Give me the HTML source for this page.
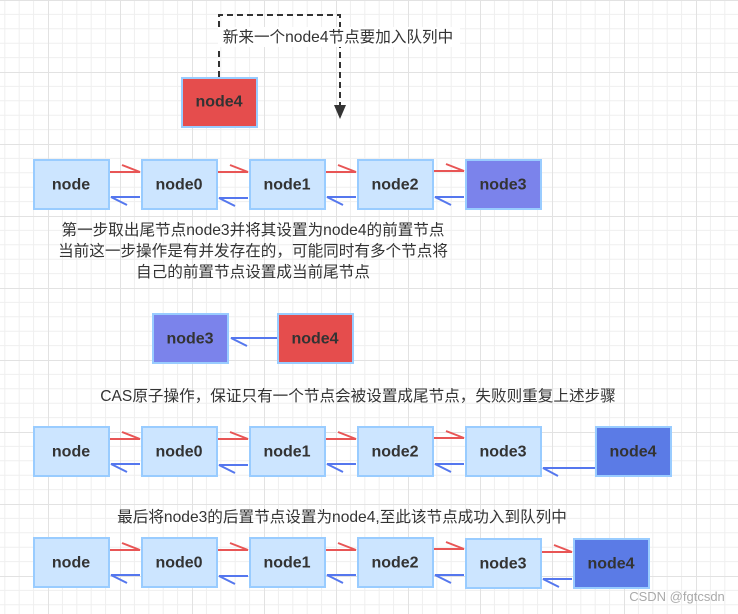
<!DOCTYPE html>
<html><head><meta charset="utf-8"><style>
html,body{margin:0;padding:0;background:#fff}
svg{display:block}
text{font-family:"Liberation Sans","Noto Sans CJK SC",sans-serif}
.b{font-weight:bold;font-size:16px;fill:#333;text-anchor:middle;dominant-baseline:central}
.t{font-size:15.6px;fill:#333;text-anchor:middle}
</style></head><body>
<svg width="738" height="614" viewBox="0 0 738 614" xmlns="http://www.w3.org/2000/svg">
<defs>
<pattern id="g" x="-24" y="0" width="72" height="72" patternUnits="userSpaceOnUse">
<path d="M0 14.4H72M0 28.8H72M0 43.2H72M0 57.6H72M14.4 0V72M28.8 0V72M43.2 0V72M57.6 0V72" stroke="#efefef" stroke-width="1" fill="none"/>
<path d="M0 0H72M0 0V72" stroke="#e2e2e2" stroke-width="2" fill="none"/>
</pattern>
</defs>
<rect width="738" height="614" fill="url(#g)"/>

<path d="M219 77V15H340V112" stroke="#333" stroke-width="2" stroke-dasharray="6 4" fill="none"/>
<path d="M334 105L340 119L346 105Z" fill="#333"/>
<rect x="218" y="27" width="242" height="20" fill="#fff"/>
<text class="t" x="338" y="42">新来一个node4节点要加入队列中</text>
<rect x="182" y="78" width="75" height="49" fill="#e54d4d" stroke="#99ccff" stroke-width="2"/>
<text class="b" x="219" y="102">node4</text>

<g id="row1">
<rect x="34" y="160" width="75" height="49" fill="#cce5ff" stroke="#99ccff" stroke-width="2"/>
<text class="b" x="71" y="185">node</text>
<rect x="142" y="160" width="75" height="49" fill="#cce5ff" stroke="#99ccff" stroke-width="2"/>
<text class="b" x="179" y="185">node0</text>
<rect x="250" y="160" width="75" height="49" fill="#cce5ff" stroke="#99ccff" stroke-width="2"/>
<text class="b" x="287" y="185">node1</text>
<rect x="358" y="160" width="75" height="49" fill="#cce5ff" stroke="#99ccff" stroke-width="2"/>
<text class="b" x="395" y="185">node2</text>
<g stroke="#e85555" stroke-width="2" fill="none">
<path d="M110 172H140L122 165"/><path d="M218 172H248L230 165"/><path d="M326 172H356L338 165"/><path d="M434 171H464L446 164"/>
</g>
<g stroke="#5577ee" stroke-width="2" fill="none">
<path d="M140 197H111L127 205"/><path d="M248 198H219L235 206"/><path d="M356 197H327L343 205"/><path d="M464 197H435L451 205"/>
</g>
</g>
<rect x="466" y="160" width="75" height="49" fill="#7b83eb" stroke="#99ccff" stroke-width="2"/>
<text class="b" x="503" y="185">node3</text>

<text class="t" x="253" y="235">第一步取出尾节点node3并将其设置为node4的前置节点</text>
<text class="t" x="253" y="256">当前这一步操作是有并发存在的，可能同时有多个节点将</text>
<text class="t" x="253" y="277">自己的前置节点设置成当前尾节点</text>

<rect x="153" y="314" width="75" height="49" fill="#7b83eb" stroke="#99ccff" stroke-width="2"/>
<text class="b" x="190" y="339">node3</text>
<rect x="278" y="314" width="75" height="49" fill="#e54d4d" stroke="#99ccff" stroke-width="2"/>
<text class="b" x="315" y="339">node4</text>
<path d="M277 338H231L247 346" stroke="#5577ee" stroke-width="2" fill="none"/>

<text class="t" x="358" y="401">CAS原子操作，保证只有一个节点会被设置成尾节点，失败则重复上述步骤</text>

<use href="#row1" y="267"/>
<rect x="466" y="427" width="75" height="49" fill="#cce5ff" stroke="#99ccff" stroke-width="2"/>
<text class="b" x="503" y="452">node3</text>
<rect x="596" y="427" width="75" height="49" fill="#5b7be6" stroke="#99ccff" stroke-width="2"/>
<text class="b" x="633" y="452">node4</text>
<path d="M595 468H543L558 476" stroke="#5577ee" stroke-width="2" fill="none"/>

<text class="t" x="342" y="522">最后将node3的后置节点设置为node4,至此该节点成功入到队列中</text>

<use href="#row1" y="378"/>
<rect x="466" y="539" width="75" height="49" fill="#cce5ff" stroke="#99ccff" stroke-width="2"/>
<text class="b" x="503" y="564">node3</text>
<rect x="574" y="539" width="75" height="49" fill="#5b7be6" stroke="#99ccff" stroke-width="2"/>
<text class="b" x="611" y="564">node4</text>
<path d="M542 552H572L554 545" stroke="#e85555" stroke-width="2" fill="none"/>
<path d="M572 579H543L559 587" stroke="#5577ee" stroke-width="2" fill="none"/>

<text x="677" y="601" style="font-size:13px;fill:#aaa;text-anchor:middle">CSDN @fgtcsdn</text>
</svg>
</body></html>
